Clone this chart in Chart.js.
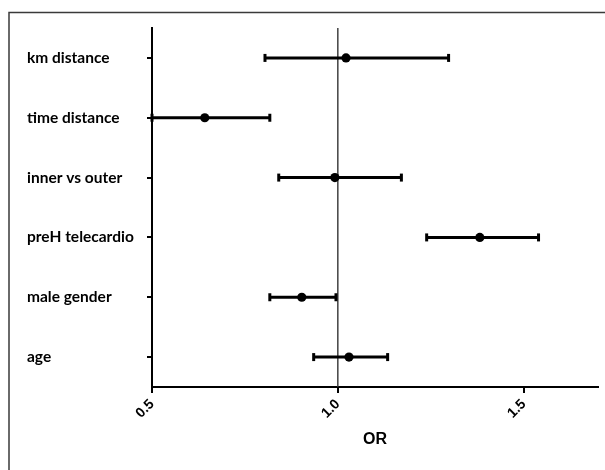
<!DOCTYPE html>
<html>
<head>
<meta charset="utf-8">
<script src="https://cdn.jsdelivr.net/npm/chart.js@4"></script>
<style>
  html, body { margin: 0; padding: 0; background: #fff; overflow: hidden; }
  #wrap { width: 605px; height: 470px; position: relative; }
</style>
</head>
<body>
<div id="wrap"><canvas id="c" width="605" height="470"></canvas></div>
<script>
// ---- data ----
const categories = ['km distance', 'time distance', 'inner vs outer', 'preH telecardio', 'male gender', 'age'];
const orValues   = [1.022, 0.642, 0.992, 1.382, 0.903, 1.030];
const ciLower    = [0.804, 0.500, 0.841, 1.239, 0.817, 0.935];
const ciUpper    = [1.298, 0.817, 1.171, 1.540, 0.995, 1.134];
const xTickValues = [0.5, 1.0, 1.5];
const referenceOR = 1.0;
const xTitle = 'OR';

// row position on the (linear) category axis: first category at top
const rowPos = categories.map((_, i) => categories.length - i);

const errorDatasets = categories.map((c, i) => ({
  type: 'line',
  label: c,
  data: [{ x: ciLower[i], y: rowPos[i] }, { x: ciUpper[i], y: rowPos[i] }],
  showLine: true,
  borderColor: '#000',
  borderWidth: 3,
  pointStyle: 'line',
  rotation: 90,
  pointRadius: 4,
  pointBorderWidth: 3,
  pointBorderColor: '#000',
  pointBackgroundColor: '#000',
  clip: false,
  order: 2
}));

const pointDataset = {
  type: 'scatter',
  label: 'OR',
  data: orValues.map((v, i) => ({ x: v, y: rowPos[i] })),
  pointStyle: 'circle',
  pointRadius: 4.6,
  pointBorderWidth: 0,
  backgroundColor: '#000',
  borderColor: '#000',
  clip: false,
  order: 1
};

const refDataset = {
  type: 'line',
  label: 'ref',
  data: [{ x: referenceOR, y: 0.5 }, { x: referenceOR, y: categories.length + 0.5 }],
  showLine: true,
  borderColor: '#333',
  borderWidth: 1.4,
  pointRadius: 0,
  order: 3
};

const frame = {
  id: 'frame',
  beforeDraw(chart) {
    const ctx = chart.ctx;
    ctx.save();
    ctx.fillStyle = '#fff';
    ctx.fillRect(0, 0, chart.width, chart.height);
    ctx.strokeStyle = '#3a3a3a';
    ctx.lineWidth = 1.5;
    ctx.strokeRect(9, 12.5, 800, 700);
    ctx.restore();
  }
};

new Chart(document.getElementById('c'), {
  type: 'scatter',
  data: { datasets: [pointDataset, ...errorDatasets, refDataset] },
  plugins: [frame],
  options: {
    responsive: false,
    animation: false,
    events: [],
    layout: { padding: { left: 27, right: 6, top: 28, bottom: 0 } },
    plugins: { legend: { display: false }, tooltip: { enabled: false } },
    scales: {
      x: {
        type: 'linear',
        min: 0.5,
        max: 1.7,
        afterBuildTicks: (s) => { s.ticks = xTickValues.map(v => ({ value: v })); },
        afterFit: (s) => { s.height = 83; },
        ticks: {
          callback: (v) => Number(v).toFixed(1),
          minRotation: 45,
          maxRotation: 45,
          color: '#000',
          padding: 3,
          font: { family: 'Liberation Sans', size: 14, weight: 'bold' }
        },
        grid: { drawOnChartArea: false, drawTicks: true, tickLength: 6, color: '#000', lineWidth: 2 },
        border: { display: true, color: '#000', width: 2 },
        title: {
          display: true,
          text: xTitle,
          color: '#000',
          padding: { top: 0, bottom: 21 },
          font: { family: 'Liberation Sans', size: 16, weight: 'bold' }
        }
      },
      y: {
        type: 'linear',
        min: 0.5,
        max: categories.length + 0.5,
        afterBuildTicks: (s) => { s.ticks = rowPos.map(v => ({ value: v })); },
        afterFit: (s) => { s.width = 125; },
        ticks: {
          callback: (v) => categories[categories.length - v],
          crossAlign: 'far',
          color: '#000',
          font: { family: 'Lato', size: 15.5, weight: 'bold' }
        },
        grid: { drawOnChartArea: false, drawTicks: true, tickLength: 5, color: '#000', lineWidth: 2 },
        border: { display: true, color: '#000', width: 2 }
      }
    }
  }
});
</script>
</body>
</html>
